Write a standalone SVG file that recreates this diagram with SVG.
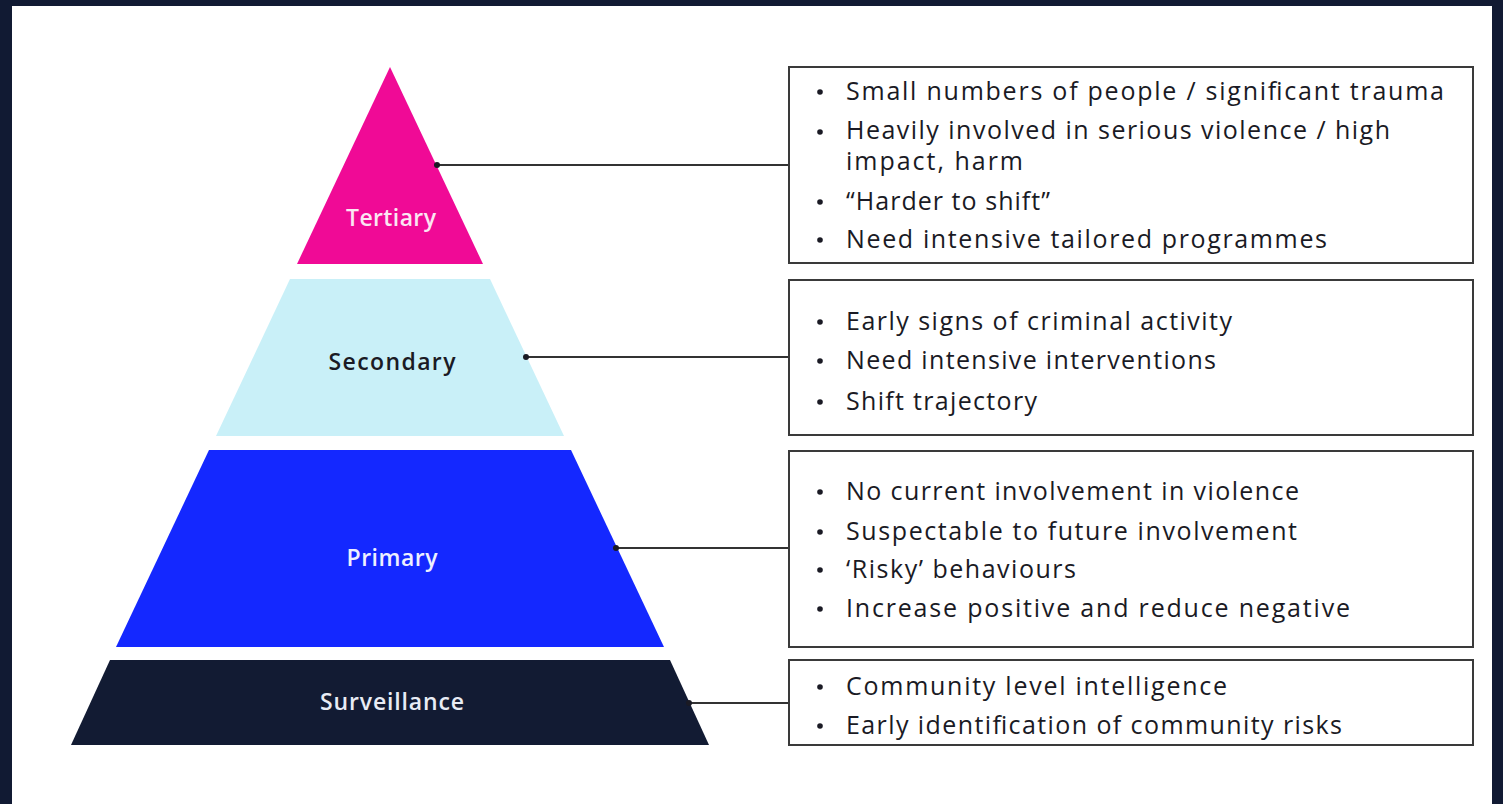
<svg xmlns="http://www.w3.org/2000/svg" width="1503" height="804" viewBox="0 0 1503 804">
<style>
.lbl{font-family:"Open Sans","Liberation Sans",sans-serif;font-size:23px;font-weight:600;text-anchor:middle}
.t{font-family:"Open Sans","Liberation Sans",sans-serif;font-size:25px;fill:#1a1a24}
.box{fill:#ffffff;stroke:#3a3a3a;stroke-width:2}
.conn{stroke:#333333;stroke-width:2;fill:none}
.b{fill:#1a1a24}
</style>
<rect x="0" y="0" width="1503" height="804" fill="#111a33"/>
<rect x="12" y="6" width="1480" height="798" fill="#ffffff"/>

<g id="tertiary">
<polygon points="390,67 297,264 483,264" fill="#f00a96"/>
<text class="lbl" x="391" y="226" fill="#fbe6f2" textLength="90">Tertiary</text>
</g>
<g id="secondary">
<polygon points="290,279 490,279 564,436 216,436" fill="#c9f0f8"/>
<text class="lbl" x="392" y="370" fill="#1a1a24" textLength="127">Secondary</text>
</g>
<g id="primary">
<polygon points="209,450 571,450 664,647 116,647" fill="#1428ff"/>
<text class="lbl" x="392" y="566" fill="#eef0ff" textLength="91">Primary</text>
</g>
<g id="surveillance">
<polygon points="110,660 670,660 709,745 71,745" fill="#121b33"/>
<text class="lbl" x="392" y="710" fill="#e8ecf5" textLength="144">Surveillance</text>
</g>

<g id="connectors">
<line class="conn" x1="437" y1="165" x2="789" y2="165"/>
<circle class="b" cx="437" cy="165" r="3"/>
<line class="conn" x1="526" y1="357" x2="789" y2="357"/>
<circle class="b" cx="526" cy="357" r="3"/>
<line class="conn" x1="616" y1="548" x2="789" y2="548"/>
<circle class="b" cx="616" cy="548" r="3"/>
<line class="conn" x1="689" y1="703" x2="789" y2="703"/>
<circle class="b" cx="689" cy="703" r="3"/>
</g>

<g id="box-tertiary">
<rect class="box" x="789" y="67" width="684" height="196"/>
<circle class="b" cx="820" cy="92" r="2.8"/>
<text class="t" x="846" y="100" textLength="598">Small numbers of people / significant trauma</text>
<circle class="b" cx="820" cy="132" r="2.8"/>
<text class="t" x="846" y="139" textLength="544">Heavily involved in serious violence / high</text>
<text class="t" x="846" y="170" textLength="177">impact, harm</text>
<circle class="b" cx="820" cy="202" r="2.8"/>
<text class="t" x="846" y="210" textLength="204">“Harder to shift”</text>
<circle class="b" cx="820" cy="240" r="2.8"/>
<text class="t" x="846" y="248" textLength="481">Need intensive tailored programmes</text>
</g>

<g id="box-secondary">
<rect class="box" x="789" y="280" width="684" height="155"/>
<circle class="b" cx="820" cy="322" r="2.8"/>
<text class="t" x="846" y="330" textLength="386">Early signs of criminal activity</text>
<circle class="b" cx="820" cy="361" r="2.8"/>
<text class="t" x="846" y="369" textLength="370">Need intensive interventions</text>
<circle class="b" cx="820" cy="402" r="2.8"/>
<text class="t" x="846" y="410" textLength="191">Shift trajectory</text>
</g>

<g id="box-primary">
<rect class="box" x="789" y="451" width="684" height="196"/>
<circle class="b" cx="820" cy="492" r="2.8"/>
<text class="t" x="846" y="500" textLength="453">No current involvement in violence</text>
<circle class="b" cx="820" cy="532" r="2.8"/>
<text class="t" x="846" y="540" textLength="451">Suspectable to future involvement</text>
<circle class="b" cx="820" cy="570" r="2.8"/>
<text class="t" x="846" y="578" textLength="230">‘Risky’ behaviours</text>
<circle class="b" cx="820" cy="609" r="2.8"/>
<text class="t" x="846" y="617" textLength="504">Increase positive and reduce negative</text>
</g>

<g id="box-surveillance">
<rect class="box" x="789" y="660" width="684" height="85"/>
<circle class="b" cx="820" cy="687" r="2.8"/>
<text class="t" x="846" y="695" textLength="381">Community level intelligence</text>
<circle class="b" cx="820" cy="726" r="2.8"/>
<text class="t" x="846" y="734" textLength="496">Early identification of community risks</text>
</g>
</svg>
